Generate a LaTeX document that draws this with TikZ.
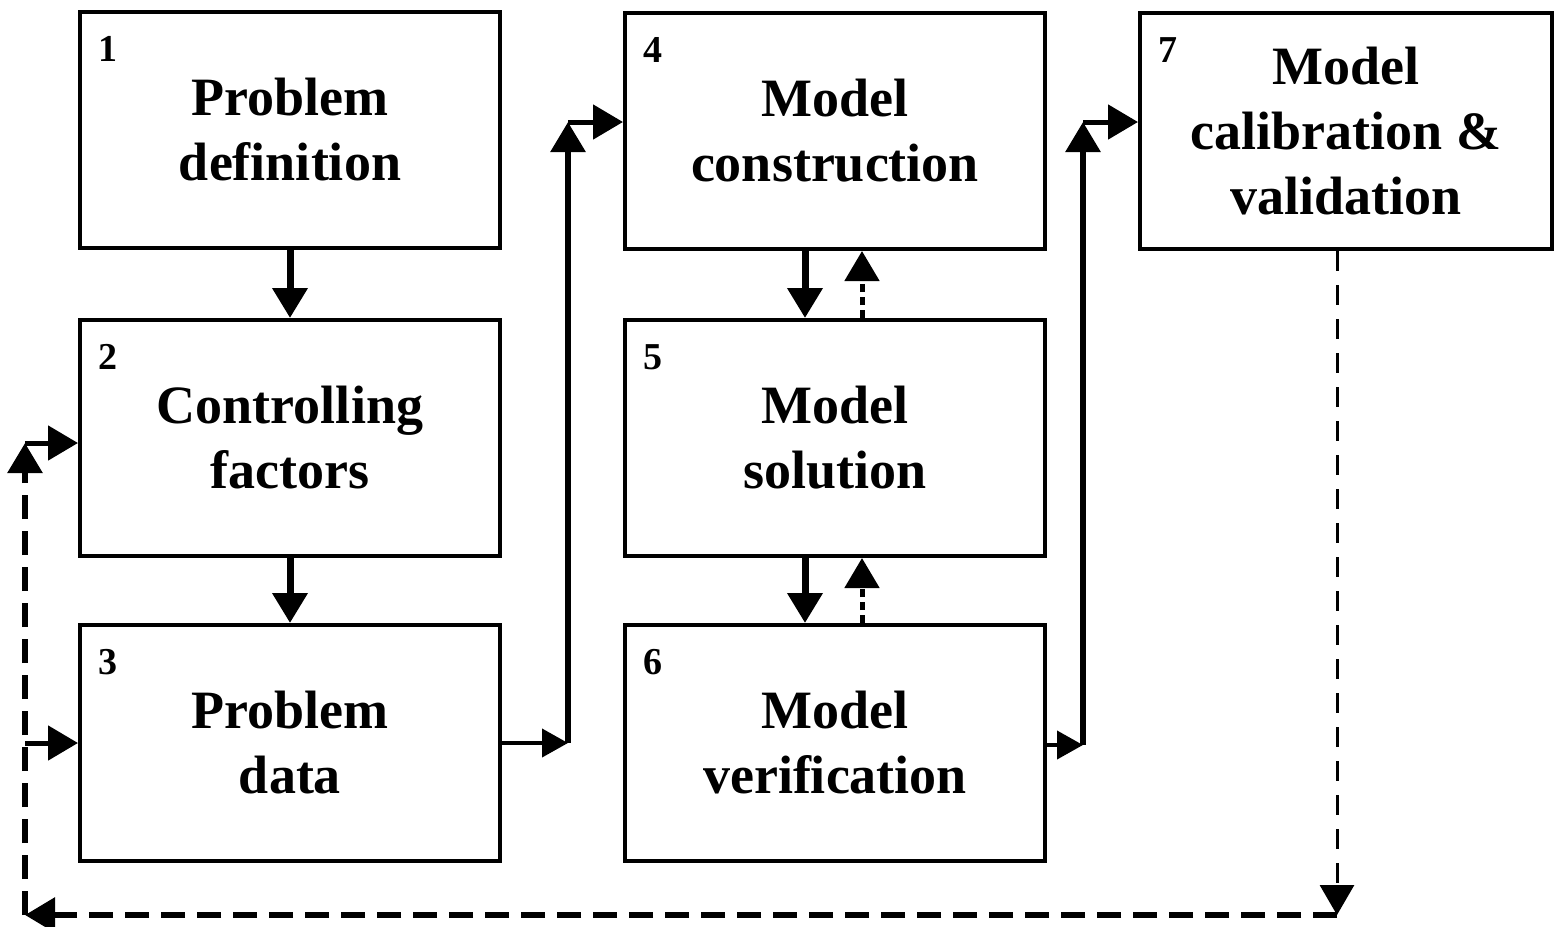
\documentclass[tikz,border=0pt]{standalone}
\usepackage{fontspec}
\setmainfont{Liberation Serif}
\usepackage{tikz}
\usetikzlibrary{arrows.meta}

\begin{document}
\begin{tikzpicture}
                [x=0.5pt, y=-0.5pt,
                    stage/.style={draw, line width=2pt, minimum width=210pt, minimum height=118pt,
                        align=center, font=\bfseries\fontsize{27}{32.5}\selectfont},
                    num/.style={anchor=north west, inner sep=0pt, font=\bfseries\fontsize{19}{19}\selectfont},
                ]
                \tikzstyle{flow}=[line width=3.5pt, -{Triangle[length=15pt,width=17pt]}]
                \tikzstyle{feed}=[line width=2pt, -{Triangle[length=13pt,width=14pt]}]
                \tikzstyle{back}=[line width=2.5pt, dash pattern=on 4pt off 2.5pt, -{Triangle[length=15pt,width=17pt]}]
                \tikzstyle{loop}=[line width=3pt, dash pattern=on 12pt off 6pt, -{Triangle[length=15pt,width=17pt]}]
                \useasboundingbox (0,0) rectangle (1555,927);
                % the seven stages
                \node[stage] (b1) at (290,130) {Problem\\definition};
                \node[stage] (b2) at (290,438) {Controlling\\factors};
                \node[stage] (b3) at (290,743) {Problem\\data};
                \node[stage] (b4) at (835,131) {Model\\construction};
                \node[stage] (b5) at (835,438) {Model\\solution};
                \node[stage] (b6) at (835,743) {Model\\verification};
                \node[stage, minimum width=206pt] (b7) at (1346,131) {Model\\calibration \&\\validation};
                \foreach \b/\n in {b1/1,b2/2,b3/3,b4/4,b5/5,b6/6,b7/7}
                    \node[num] at ([shift={(10pt,-13pt)}]\b.north west) {\n};
                % main sequence
                \draw[flow] (b1) -- (b2);
                \draw[flow] (b2) -- (b3);
                \draw[flow] ([xshift=-15pt]b4.south) -- ([xshift=-15pt]b5.north);
                \draw[flow] ([xshift=-15pt]b5.south) -- ([xshift=-15pt]b6.north);
                \draw[back] ([xshift=13.5pt]b5.north) -- ([xshift=13.5pt]b4.south);
                \draw[back] ([xshift=13.5pt]b6.north) -- ([xshift=13.5pt]b5.south);
                % links between the columns
                \coordinate (c1) at (568,743);
                \coordinate (c2) at (568,122);
                \coordinate (c3) at (1083,745);
                \coordinate (c4) at (1083,122);
                \draw[feed] (b3.east) -- (c1);
                \draw[flow, line width=3pt] (c1) -- (c2);
                \draw[flow, line width=2.5pt] (c2) -- (b4.west |- c2);
                \draw[feed] (b6.east |- c3) -- (c3);
                \draw[flow, line width=3pt] (c3) -- (c4);
                \draw[flow, line width=2.5pt] (c4) -- (b7.west |- c4);
                % dashed loop back from calibration
                \coordinate (d1) at (1337,915);
                \coordinate (d2) at (25,915);
                \coordinate (d3) at (25,443);
                \draw[loop, line width=1.5pt, dash pattern=on 10pt off 7pt] (b7.south -| d1) -- (d1);
                \draw[loop] (d1) -- (d2);
                \draw[loop] (d2) -- (d3);
                \draw[loop, line width=2.5pt] (d3) -- (b2.west |- d3);
                \draw[loop, line width=2.5pt] (b3.west -| d2) -- (b3.west);
            \end{tikzpicture}
\end{document}
